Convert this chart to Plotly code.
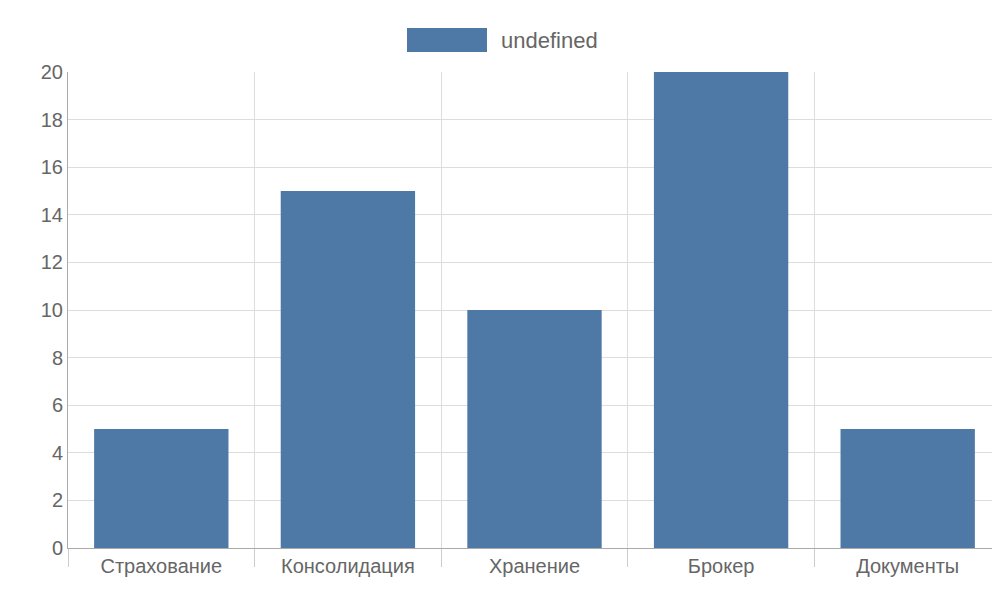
import plotly.graph_objects as go

categories = ["Страхование", "Консолидация", "Хранение", "Брокер", "Документы"]
values = [5, 15, 10, 20, 5]
series_name = "undefined"
bar_color = "#4e79a7"

fig = go.Figure(go.Bar(x=categories, y=values, name=series_name,
                       marker=dict(color=bar_color, line=dict(width=0)),
                       showlegend=False))

fig.update_layout(
    width=1000, height=600,
    margin=dict(l=60, r=7, t=64, b=60),
    plot_bgcolor="white", paper_bgcolor="white",
    font=dict(family="Liberation Sans, Arial, sans-serif", size=20, color="#666"),
    bargap=0.28,
    xaxis=dict(type="category", tickson="boundaries", showgrid=True,
               gridcolor="#dddddd", ticks="outside", ticklen=18,
               tickcolor="#cccccc", showline=True, linecolor="#aaaaaa"),
    yaxis=dict(range=[0, 20], dtick=2, showgrid=True, gridcolor="#dddddd",
               zeroline=False, showline=True, linecolor="#aaaaaa",
               ticks="outside", ticklen=0),
    shapes=[dict(type="rect", xref="paper", yref="paper",
                 x0=(399 - 60) / 933, x1=(479 - 60) / 933,
                 y0=1 + 20 / 476, y1=1 + 44 / 476,
                 fillcolor=bar_color, line=dict(width=0))],
    annotations=[dict(text=series_name, xref="paper", yref="paper",
                      x=(491 - 60) / 933, y=1 + 32 / 476, xanchor="left",
                      yanchor="middle", showarrow=False,
                      font=dict(size=22, color="#666"))],
)

fig.write_html("out.html")
